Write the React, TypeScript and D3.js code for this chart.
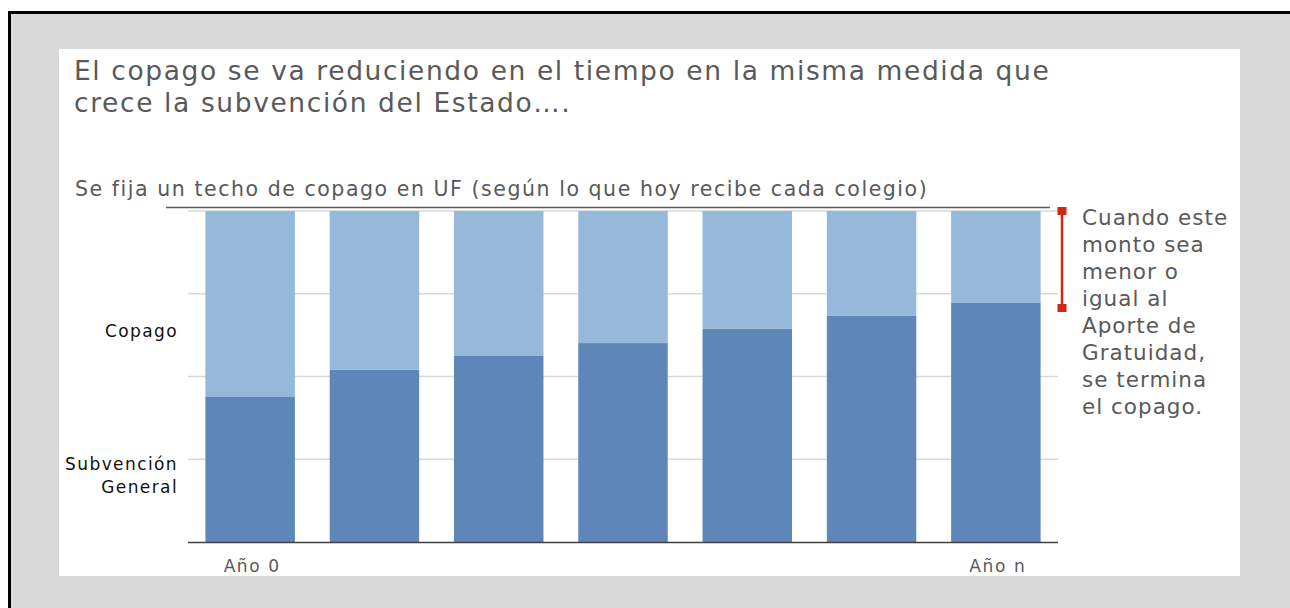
import React, { useRef, useEffect } from "react";
import * as d3 from "d3";

// years shown (only first and last get a label)
const years = ["Año 0", "", "", "", "", "", "Año n"];
// share of the fixed ceiling (UF) covered by the state subsidy, in %
const subvencion = [44, 52, 56.2, 60.1, 64.4, 68.3, 72.2];
// copago = what's left up to the ceiling
const copago = subvencion.map((s) => 100 - s);
const gridTicks = [25, 50, 75, 100];

const titleLines = [
  "El copago se va reduciendo en el tiempo en la misma medida que",
  "crece la subvención del Estado….",
];
const subtitle = "Se fija un techo de copago en UF (según lo que hoy recibe cada colegio)";
const noteLines = [
  "Cuando este",
  "monto sea",
  "menor o",
  "igual al",
  "Aporte de",
  "Gratuidad,",
  "se termina",
  "el copago.",
];

const W = 1290;
const H = 608;
const FONT = "'DejaVu Sans', 'Open Sans', sans-serif";

export default function App() {
  const svgRef = useRef<SVGSVGElement>(null);

  useEffect(() => {
    const svg = d3.select(svgRef.current);
    svg.selectAll("*").remove();

    // page background + frame
    svg.append("rect").attr("x", 0).attr("y", 0).attr("width", W).attr("height", H).attr("fill", "#fff");
    svg.append("rect")
      .attr("x", 9.5).attr("y", 12.5).attr("width", W).attr("height", H)
      .attr("fill", "#d9d9d9").attr("stroke", "#000").attr("stroke-width", 3);
    svg.append("rect").attr("x", 59).attr("y", 49).attr("width", 1181).attr("height", 527).attr("fill", "#fff");

    // titles
    const title = svg.append("text")
      .attr("font-family", FONT).attr("font-size", 26.5).attr("letter-spacing", 1.6)
      .attr("fill", "#595959");
    titleLines.forEach((t, i) => {
      title.append("tspan").attr("x", 74).attr("y", 80 + i * 32).text(t);
    });
    svg.append("text")
      .attr("x", 75).attr("y", 196)
      .attr("font-family", FONT).attr("font-size", 20.5).attr("letter-spacing", 1.55)
      .attr("fill", "#595959")
      .text(subtitle);

    // scales
    const x = d3.scaleBand<number>()
      .domain(d3.range(years.length))
      .range([188, 1058])
      .paddingInner(0.28)
      .paddingOuter(0.14);
    const y = d3.scaleLinear().domain([0, 100]).range([542, 211]);

    // gridlines
    svg.append("g").selectAll("line").data(gridTicks).join("line")
      .attr("x1", 188).attr("x2", 1058)
      .attr("y1", (d) => y(d)).attr("y2", (d) => y(d))
      .attr("stroke", "#d9d9d9").attr("stroke-width", 1.5);

    // top reference line (ceiling)
    svg.append("line")
      .attr("x1", 166).attr("x2", 1050)
      .attr("y1", y(100) - 3.5).attr("y2", y(100) - 3.5)
      .attr("stroke", "#595959").attr("stroke-width", 1.5);

    // stacked bars
    const stack = d3.stack<number>().keys(["sub", "cop"])
      .value((i, k) => (k === "sub" ? subvencion[i] : copago[i]));
    const series = stack(d3.range(years.length));
    const colors = ["#5e86b8", "#96b8db"];
    svg.append("g").selectAll("g").data(series).join("g")
      .attr("fill", (_, i) => colors[i])
      .selectAll("rect").data((s) => s).join("rect")
      .attr("x", (d) => x(d.data)!)
      .attr("width", x.bandwidth())
      .attr("y", (d) => y(d[1]))
      .attr("height", (d) => y(d[0]) - y(d[1]));

    // x axis line
    svg.append("line")
      .attr("x1", 188).attr("x2", 1058).attr("y1", 542.5).attr("y2", 542.5)
      .attr("stroke", "#404040").attr("stroke-width", 1.5);

    // x labels
    svg.append("g").selectAll("text").data(years).join("text")
      .attr("x", (_, i) => x(i)! + x.bandwidth() / 2 + 2)
      .attr("y", 572)
      .attr("text-anchor", "middle")
      .attr("font-family", FONT).attr("font-size", 17).attr("letter-spacing", 1.6)
      .attr("fill", "#595959")
      .text((d) => d);

    // series labels on the left
    const left = svg.append("g")
      .attr("font-family", FONT).attr("font-size", 17).attr("letter-spacing", 1.4)
      .attr("fill", "#111")
      .attr("text-anchor", "end");
    left.append("text").attr("x", 178).attr("y", 337).text("Copago");
    left.append("text").attr("x", 178).attr("y", 470).text("Subvención");
    left.append("text").attr("x", 178).attr("y", 493).text("General");

    // red bracket over last bar's copago
    const last = years.length - 1;
    const bx = 1062;
    const by0 = y(100);
    const by1 = y(subvencion[last]) + 5;
    const red = "#cc2a12";
    svg.append("line")
      .attr("x1", bx).attr("x2", bx).attr("y1", by0).attr("y2", by1)
      .attr("stroke", red).attr("stroke-width", 2.5);
    [by0, by1].forEach((yy) => {
      svg.append("rect")
        .attr("x", bx - 4.5).attr("y", yy - 4).attr("width", 9).attr("height", 8)
        .attr("fill", red);
    });

    // note text
    const note = svg.append("text")
      .attr("font-family", FONT).attr("font-size", 21.5).attr("letter-spacing", 1)
      .attr("fill", "#595959");
    noteLines.forEach((t, i) => {
      note.append("tspan").attr("x", 1082).attr("y", 225 + i * 27).text(t);
    });
  }, []);

  return (
    <>
      <style>{`body{margin:0}`}</style>
      <svg ref={svgRef} width={W} height={H} style={{ display: "block" }}></svg>
    </>
  );
}
